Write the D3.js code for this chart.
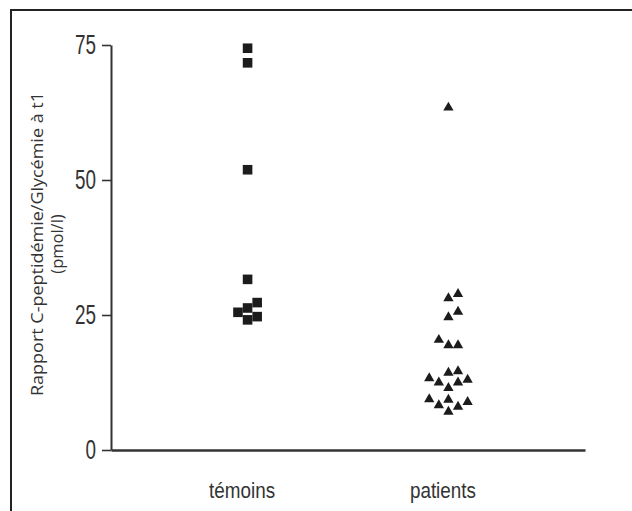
<!DOCTYPE html>
<html>
<head>
<meta charset="utf-8">
<script src="https://cdn.jsdelivr.net/npm/d3@7"></script>
<style>
  html, body { margin: 0; padding: 0; background: #fff; }
  svg { display: block; }
</style>
</head>
<body>
<svg id="chart" width="632" height="511"></svg>
<script>
// ---- data ----
const categories = ["témoins", "patients"];
const temoinsValues = [74.4, 71.7, 51.9, 31.6, 27.3, 26.3, 25.5, 24.7, 24.1];
const patientsValues = [63.4, 28.9, 28.1, 25.6, 24.6, 20.4, 19.4, 19.4, 14.6, 14.3,
                        13.3, 13.0, 12.5, 12.5, 11.5, 9.4, 9.3, 8.9, 8.3, 8.0, 7.1];
const yTickValues = [0, 25, 50, 75];
const yTitleLine1 = "Rapport C-peptidémie/Glycémie à t1";
const yTitleLine2 = "(pmol/l)";

(function () {
// ---- layout ----
const svg = d3.select("#chart");
const W = 632, H = 511;
const mLeft = 111, mRight = 585, mTop = 45, mBottom = 450;
const ink = "#1c1c1c";
const axisColor = "#333";

// frame
svg.append("path")
  .attr("d", `M11,${H} L11,10 L${W},10`)
  .attr("fill", "none")
  .attr("stroke", "#222")
  .attr("stroke-width", 2);

const y = d3.scaleLinear().domain([0, 75]).range([mBottom, mTop]);
const x = d3.scalePoint().domain(categories).range([mLeft, mRight]).padding(0.68);

// y axis
const yAxis = svg.append("g")
  .attr("transform", `translate(${mLeft},0)`)
  .call(d3.axisLeft(y).tickValues(yTickValues).tickSize(9).tickSizeOuter(0).tickPadding(6));
yAxis.select(".domain").attr("stroke", axisColor).attr("stroke-width", 2);
yAxis.selectAll(".tick line").attr("stroke", axisColor).attr("stroke-width", 1.6);
yAxis.selectAll(".tick text")
  .attr("fill", "#333")
  .attr("font-family", "'Liberation Sans Narrow', 'Liberation Sans', Arial, sans-serif")
  .attr("font-size", 28)
  .attr("dy", "0.32em")
  .attr("textLength", d => String(d).length * 10.5)
  .attr("lengthAdjust", "spacingAndGlyphs");

// x axis
const xAxis = svg.append("g")
  .attr("transform", `translate(0,${mBottom})`)
  .call(d3.axisBottom(x).tickSize(0).tickSizeOuter(0).tickPadding(32));
xAxis.select(".domain").attr("stroke", axisColor).attr("stroke-width", 2.4);
xAxis.selectAll(".tick text")
  .attr("fill", "#333")
  .attr("font-family", "'Liberation Sans Narrow', 'Liberation Sans', Arial, sans-serif")
  .attr("font-size", 22)
  .attr("dx", -6)
  .attr("textLength", 66)
  .attr("lengthAdjust", "spacingAndGlyphs");

// y title
const yTitle = svg.append("g").attr("transform", `translate(0,244) rotate(-90)`);
yTitle.append("text")
  .attr("x", 0).attr("y", 43)
  .attr("text-anchor", "middle")
  .attr("font-family", "'Open Sans', 'Noto Sans', sans-serif")
  .attr("font-size", 16.5)
  .attr("fill", "#333")
  .attr("textLength", 304)
  .attr("lengthAdjust", "spacingAndGlyphs")
  .text(yTitleLine1);
yTitle.append("text")
  .attr("x", 0).attr("y", 63)
  .attr("text-anchor", "middle")
  .attr("font-family", "'Open Sans', 'Noto Sans', sans-serif")
  .attr("font-size", 16.5)
  .attr("fill", "#333")
  .text(yTitleLine2);

// beeswarm layout (greedy column placement)
function swarm(values, minGap) {
  const sorted = values.map(v => v).sort((a, b) => a - b);
  const placed = [];
  const order = [0, 1, -1, 2, -2, 3, -3];
  const out = [];
  sorted.forEach(v => {
    const py = y(v);
    let col = 0;
    for (const c of order) {
      const clash = placed.some(q => q.col === c && Math.abs(q.py - py) < minGap);
      if (!clash) { col = c; break; }
    }
    placed.push({ col, py });
    out.push({ value: v, col });
  });
  return out;
}

const colW = 9.6;
const groups = [
  { cat: "témoins", values: temoinsValues, symbol: d3.symbolSquare, size: 92 },
  { cat: "patients", values: patientsValues, symbol: d3.symbolTriangle, size: 46 }
];

groups.forEach(g => {
  const pts = swarm(g.values, 10.5);
  svg.append("g").selectAll("path")
    .data(pts)
    .join("path")
    .attr("d", d3.symbol(g.symbol, g.size))
    .attr("transform", d => `translate(${x(g.cat) + d.col * colW},${y(d.value)})`)
    .attr("fill", ink);
});
})();
</script>
</body>
</html>
